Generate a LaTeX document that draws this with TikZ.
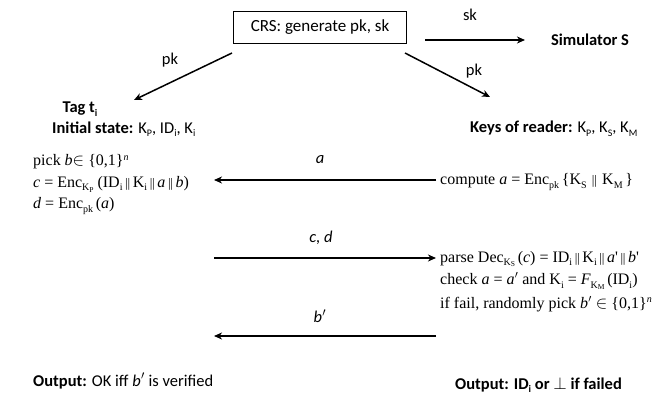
\documentclass[tikz,border=0pt]{standalone}
\usepackage{fontspec}
\setmainfont{Carlito}
\newfontfamily\tnr{Liberation Serif}
\usetikzlibrary{arrows.meta}
\newcommand\sbx[1]{\raisebox{-0.45ex}{\fontsize{10}{10}\selectfont #1}}
\newcommand\ssbx[1]{\raisebox{-0.35ex}{\fontsize{7.5}{7.5}\selectfont #1}}
\newcommand\supx[1]{\raisebox{0.75ex}{\fontsize{10}{10}\selectfont #1}}
\newcommand\bars{\,{\tnr\fontsize{13}{13}\selectfont\textbar\kern-0.3pt\textbar}\,}
\newcommand\prm{\kern0.3pt$^{\prime}$}
\tikzset{
  arr/.style={line width=1.5pt,-{Stealth[length=8pt,width=7pt,inset=2.5pt]}},
  sans/.style={font=\fontsize{16.5}{19}\selectfont,inner sep=0pt},
  serif/.style={font=\tnr\fontsize{16}{19}\selectfont,inner sep=0pt,anchor=west},
  lbl/.style={font=\fontsize{16.5}{19}\selectfont\itshape,inner sep=0pt}
}
\begin{document}
\begin{tikzpicture}[x=1pt,y=-1pt]
\useasboundingbox (0,0) rectangle (666,394);
% CRS
\node[draw,line width=0.8pt,minimum width=173pt,minimum height=32pt,inner sep=0pt,
      font=\fontsize{17}{19}\selectfont] (crs) at (320,27) {CRS: generate pk, sk};
\node[sans,font=\fontsize{16.5}{19}\selectfont\bfseries] (sim) at (590,40) {Simulator S};
\coordinate (skS) at (425,40);
\coordinate (skE) at (525,40);
\draw[arr] (skS) -- (skE);
\node[sans] (sk) at (470,15) {sk};
\coordinate (pl1) at (232,53);
\coordinate (pl2) at (134,100);
\draw[arr] (pl1) -- (pl2);
\node[sans] (pkl) at (170,60) {pk};
\coordinate (pr1) at (405,53);
\coordinate (pr2) at (490,97);
\draw[arr] (pr1) -- (pr2);
\node[sans] (pkr) at (474,71) {pk};
% tag
\node[sans,font=\fontsize{16.5}{19}\selectfont\bfseries] (tag) at (80,109) {Tag t\sbx{i}};
\node[sans,anchor=west] (init) at (52,129) {\textbf{Initial state:} K\sbx{P}, ID\sbx{i}, K\sbx{i}};
\node[sans,anchor=west] (keys) at (470,129) {\textbf{Keys of reader:} K\sbx{P}, K\sbx{S}, K\sbx{M}};
% left formulas
\node[serif] (l1) at (33,162) {pick \textit{b}$\in$ \{0,1\}\supx{\textit{n}}};
\node[serif] (l2) at (33,184) {\textit{c} = Enc\sbx{K\ssbx{P}} (ID\sbx{i}\bars K\sbx{i}\bars\textit{a}\bars\textit{b})};
\node[serif] (l3) at (33,206) {\textit{d} = Enc\sbx{pk}\,(\textit{a})};
% right formulas
\node[serif] (r1) at (440,182) {compute \textit{a} = Enc\sbx{pk}\,\{K\sbx{S}\,\bars\,K\sbx{M}\,\}};
\node[serif] (r2) at (440,259) {parse Dec\sbx{K\ssbx{S}}\,(\textit{c}) = ID\sbx{i}\bars K\sbx{i}\bars\textit{a}'\bars\textit{b}'};
\node[serif] (r3) at (440,281) {check \textit{a} = \textit{a}\prm{} and K\sbx{i} = \textit{F}\sbx{K\ssbx{M}}\,(ID\sbx{i})};
\node[serif] (r4) at (440,304) {if fail, randomly pick \textit{b}\prm{} $\in$ \{0,1\}\supx{\textit{n}}};
% messages
\coordinate (aR) at (436,180);
\coordinate (aL) at (214,180);
\draw[arr] (aR) -- (aL);
\node[lbl] (la) at (320,160) {a};
\coordinate (cL) at (214,258);
\coordinate (cR) at (436,258);
\draw[arr] (cL) -- (cR);
\node[lbl] (lc) at (321,238) {c, d};
\coordinate (bR) at (436,336);
\coordinate (bL) at (214,336);
\draw[arr] (bR) -- (bL);
\node[lbl] (lb) at (320,316) {b\prm};
% outputs
\node[sans,anchor=west] (o1) at (33,381) {\textbf{Output:} OK iff \textit{b}\prm{} is verified};
\node[sans,anchor=west,font=\fontsize{16.5}{19}\selectfont\bfseries] (o2) at (455,385) {Output: ID\sbx{i} or $\perp$ if failed};
\end{tikzpicture}
\end{document}
